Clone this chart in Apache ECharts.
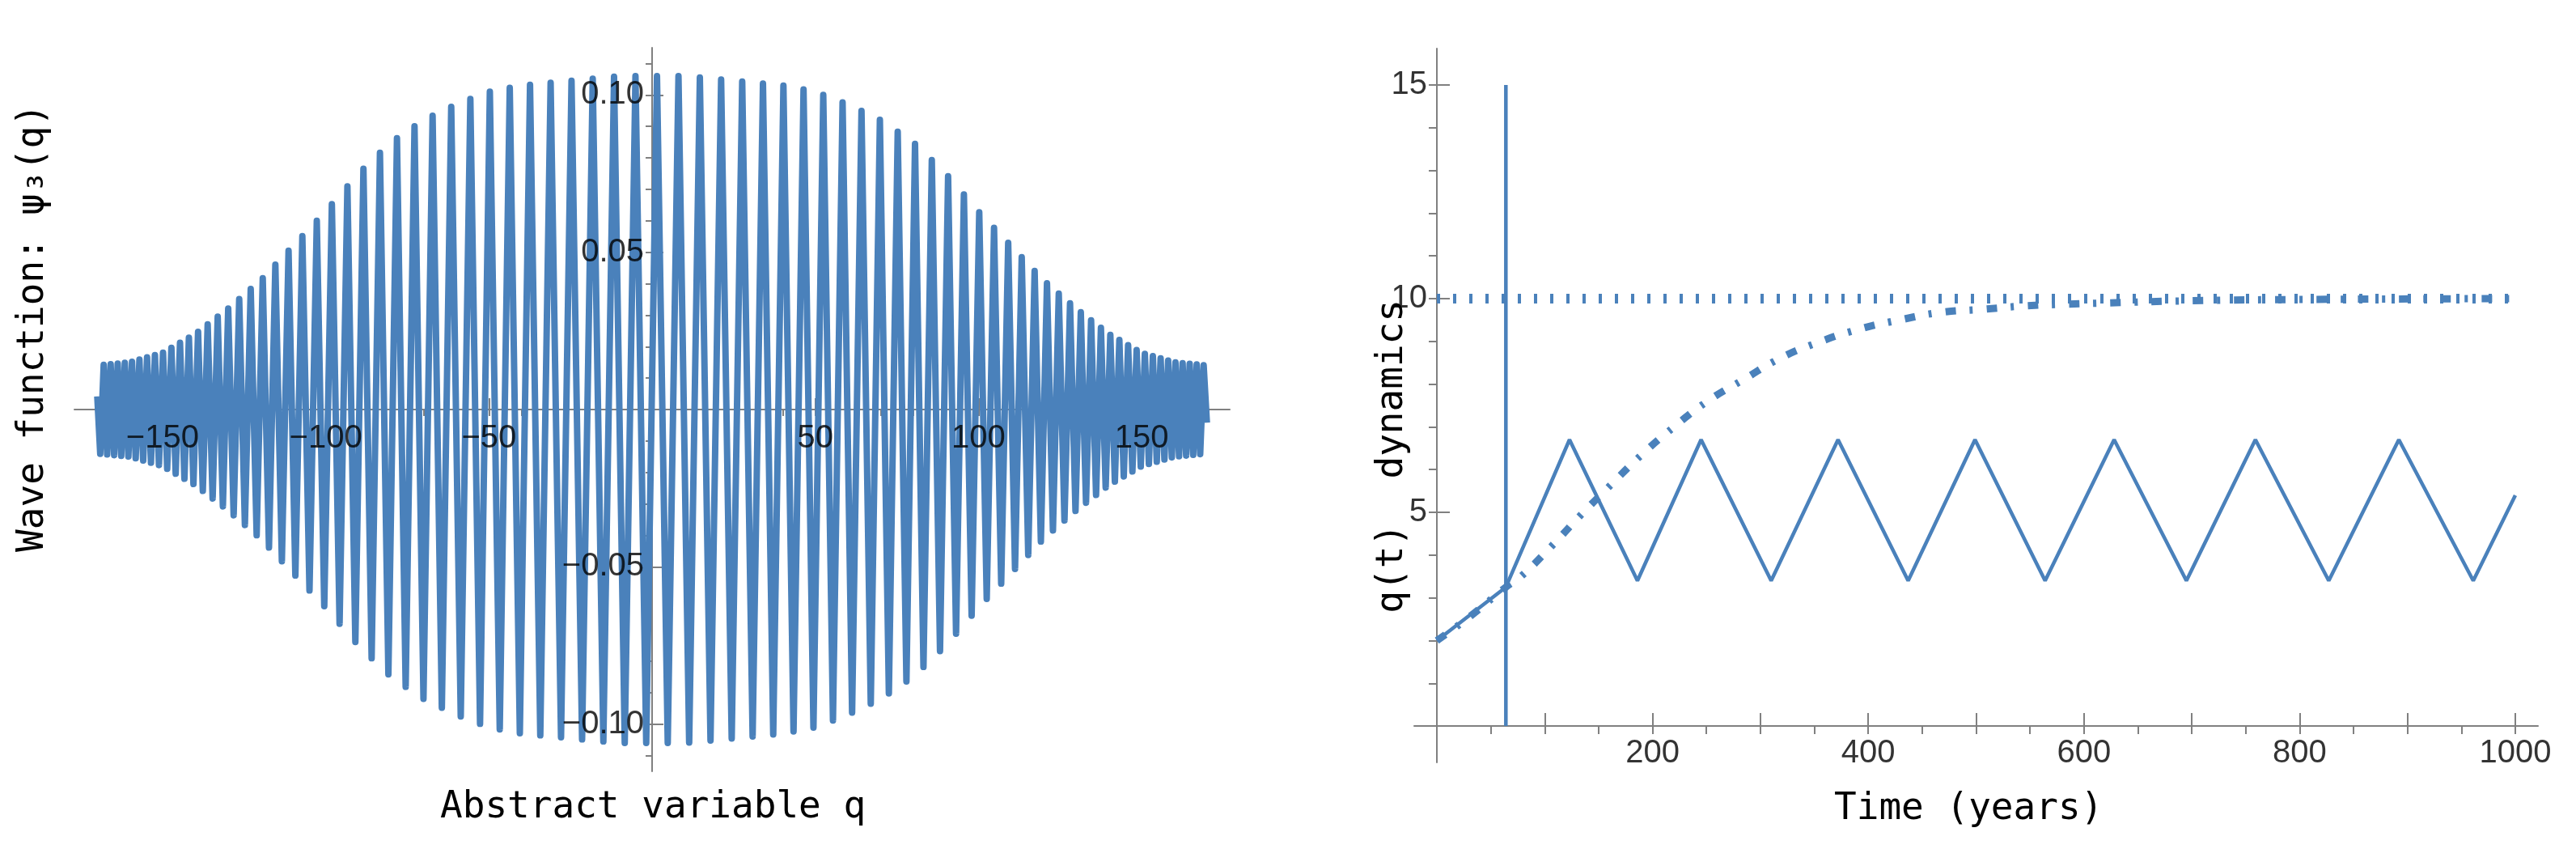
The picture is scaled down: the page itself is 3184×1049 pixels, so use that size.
<!DOCTYPE html>
<html>
<head>
<meta charset="utf-8">
<script src="https://cdn.jsdelivr.net/npm/echarts@6/dist/echarts.min.js"></script>
<style>
html, body { margin: 0; padding: 0; background: #fff; }
#chart { width: 3184px; height: 1049px; }
</style>
</head>
<body>
<div id="chart"></div>
<script>
// Left panel: wave function
// envelope amplitude at |q|
const envQ = [0, 10, 20, 30, 40, 50, 60, 70, 80, 90, 100, 110, 120, 130, 140, 150, 160, 170];
const envAmp = [0.106, 0.106, 0.105, 0.104, 0.103, 0.101, 0.097, 0.092, 0.085, 0.075, 0.063, 0.052, 0.041, 0.032, 0.024, 0.018, 0.015, 0.014];
// local oscillation period at |q|
const perQ = [0, 20, 40, 60, 80, 100, 120, 140, 160, 170];
const perLen = [6.6, 6.5, 6.2, 5.8, 5.2, 4.6, 3.7, 2.8, 2.2, 2.1];
const firstPeakQ = 1.5;
const qLimit = 170;
const waveXTicks = [-150, -100, -50, 50, 100, 150];
const waveYTicks = [-0.10, -0.05, 0.05, 0.10];

// Right panel: dynamics
const constLevel = [[0, 10], [1000, 10]];
const shockLine = [[64, 0], [64, 15]];
const triangle = [[0, 2.0], [64, 3.25], [123, 6.7], [186, 3.4], [245, 6.7], [310, 3.4], [372, 6.7], [437, 3.4],
  [499, 6.7], [564, 3.4], [628, 6.7], [695, 3.4], [759, 6.7], [827, 3.4], [892, 6.7], [961, 3.4], [1000, 5.4]];
const logistic = [[0, 2.0], [30, 2.55], [64, 3.25], [78, 3.5], [106, 4.2], [134, 4.95], [162, 5.66], [190, 6.35],
  [220, 7.0], [251, 7.6], [284, 8.1], [318, 8.6], [353, 8.97], [391, 9.28], [429, 9.5], [468, 9.68], [506, 9.75],
  [545, 9.83], [583, 9.87], [623, 9.9], [700, 9.95], [800, 9.98], [1000, 10]];
const timeLabels = [200, 400, 600, 800, 1000];
const qLabels = [5, 10, 15];

const blue = '#4a81bb';

function lookup(xs, ys, x) {
    x = Math.abs(x);
    for (let i = 1; i < xs.length; i++) {
        if (x <= xs[i]) {
            const f = (x - xs[i - 1]) / (xs[i] - xs[i - 1]);
            return ys[i - 1] + f * (ys[i] - ys[i - 1]);
        }
    }
    return ys[ys.length - 1];
}

// extremes of the wave, walking outward from the first peak
function buildWave() {
    const right = [];
    let q = firstPeakQ, s = 1;
    while (q <= qLimit) {
        right.push([q, s * lookup(envQ, envAmp, q)]);
        q += lookup(perQ, perLen, q) / 2;
        s = -s;
    }
    right.push([qLimit, s * lookup(envQ, envAmp, qLimit) * 0.3]);
    const left = [];
    q = firstPeakQ; s = 1;
    while (true) {
        q -= lookup(perQ, perLen, q) / 2;
        s = -s;
        if (q < -qLimit) break;
        left.unshift([q, s * lookup(envQ, envAmp, q)]);
    }
    left.unshift([-qLimit, s * lookup(envQ, envAmp, qLimit) * 0.3]);
    return left.concat(right);
}

const range = (a, b, step) => {
    const out = [];
    for (let v = a; v <= b + 1e-9; v += step) out.push(+v.toFixed(4));
    return out;
};

const axisGray = '#808080';
const minus = s => String(s).replace('-', '\u2212');

function valAxis(grid, min, max, ticks, tickLen, show, zeroIdx) {
    return {
        type: 'value', gridIndex: grid, min, max,
        axisLine: { show, onZero: true, onZeroAxisIndex: zeroIdx, lineStyle: { color: axisGray, width: 2 } },
        axisTick: { show: true, inside: true, length: tickLen, customValues: ticks, lineStyle: { color: axisGray, width: 2 } },
        axisLabel: { show: false },
        splitLine: { show: false }
    };
}

// tick labels as invisible points so they follow the axes crossing at zero
function labelSeries(xi, yi, data, position, distance, family, fmt) {
    return {
        type: 'scatter', xAxisIndex: xi, yAxisIndex: yi, data, symbolSize: 0, silent: true, z: 10,
        label: {
            show: true, position, distance, formatter: p => fmt(p.value),
            fontFamily: family, fontSize: 40, color: '#000'
        }
    };
}

const chart = echarts.init(document.getElementById('chart'));

chart.setOption({
    backgroundColor: '#fff',
    animation: false,
    grid: [
        { left: 92, top: 59, width: 1428, height: 894 },
        { left: 1748, top: 60, width: 1389, height: 882 }
    ],
    xAxis: [
        valAxis(0, -177, 177, range(-150, 150, 50), 14, true, 0),
        valAxis(0, -177, 177, range(-170, 170, 10), 8, false, 0),
        valAxis(1, -21, 1021, range(100, 1000, 100), 16, true, 2),
        valAxis(1, -21, 1021, range(50, 1000, 50), 10, false, 2)
    ],
    yAxis: [
        valAxis(0, -0.115, 0.115, range(-0.10, 0.10, 0.05), 14, true, 0),
        valAxis(0, -0.115, 0.115, range(-0.11, 0.11, 0.01), 8, false, 0),
        valAxis(1, -0.85, 15.85, [5, 10, 15], 16, true, 2),
        valAxis(1, -0.85, 15.85, range(1, 15, 1), 10, false, 2)
    ],
    series: [
        {
            type: 'line', xAxisIndex: 0, yAxisIndex: 0, data: buildWave(), symbol: 'none',
            lineStyle: { color: blue, width: 8, join: 'round' }
        },
        {
            type: 'line', xAxisIndex: 2, yAxisIndex: 2, data: constLevel, symbol: 'none',
            lineStyle: { color: blue, width: 12, type: [4, 16], cap: 'butt' }
        },
        {
            type: 'line', xAxisIndex: 2, yAxisIndex: 2, data: logistic, symbol: 'none', smooth: true,
            lineStyle: { color: blue, width: 9, type: [13, 17, 4, 17], cap: 'butt' }
        },
        {
            type: 'line', xAxisIndex: 2, yAxisIndex: 2, data: triangle, symbol: 'none',
            lineStyle: { color: blue, width: 4.5 }
        },
        {
            type: 'line', xAxisIndex: 2, yAxisIndex: 2, data: shockLine, symbol: 'none',
            lineStyle: { color: blue, width: 4.5 }
        },
        labelSeries(0, 0, waveXTicks.map(v => [v, 0]), 'bottom', 16, 'Liberation Sans', v => minus(v[0])),
        labelSeries(0, 0, waveYTicks.map(v => [0, v]), 'left', 10, 'Liberation Sans', v => minus(v[1].toFixed(2))),
        labelSeries(2, 2, timeLabels.map(v => [v, 0]), 'bottom', 14, 'Liberation Sans Narrow, Liberation Sans', v => String(v[0])),
        labelSeries(2, 2, qLabels.map(v => [0, v]), 'left', 12, 'Liberation Sans Narrow, Liberation Sans', v => String(v[1]))
    ],
    graphic: [
        {
            type: 'text', left: 544, top: 975, style: {
                text: 'Abstract variable q', fontFamily: 'DejaVu Sans Mono', fontSize: 46, fill: '#000'
            }
        },
        {
            type: 'text', left: 2267, top: 977, style: {
                text: 'Time (years)', fontFamily: 'DejaVu Sans Mono', fontSize: 46, fill: '#000'
            }
        },
        {
            type: 'text', left: 18, top: 128, rotation: Math.PI / 2, style: {
                text: 'Wave function: \u03c8\u2083(q)', fontFamily: 'DejaVu Sans Mono', fontSize: 46, fill: '#000'
            }
        },
        {
            type: 'text', left: 1698, top: 370, rotation: Math.PI / 2, style: {
                text: 'q(t)  dynamics', fontFamily: 'DejaVu Sans Mono', fontSize: 46, fill: '#000'
            }
        }
    ]
});
</script>
</body>
</html>
